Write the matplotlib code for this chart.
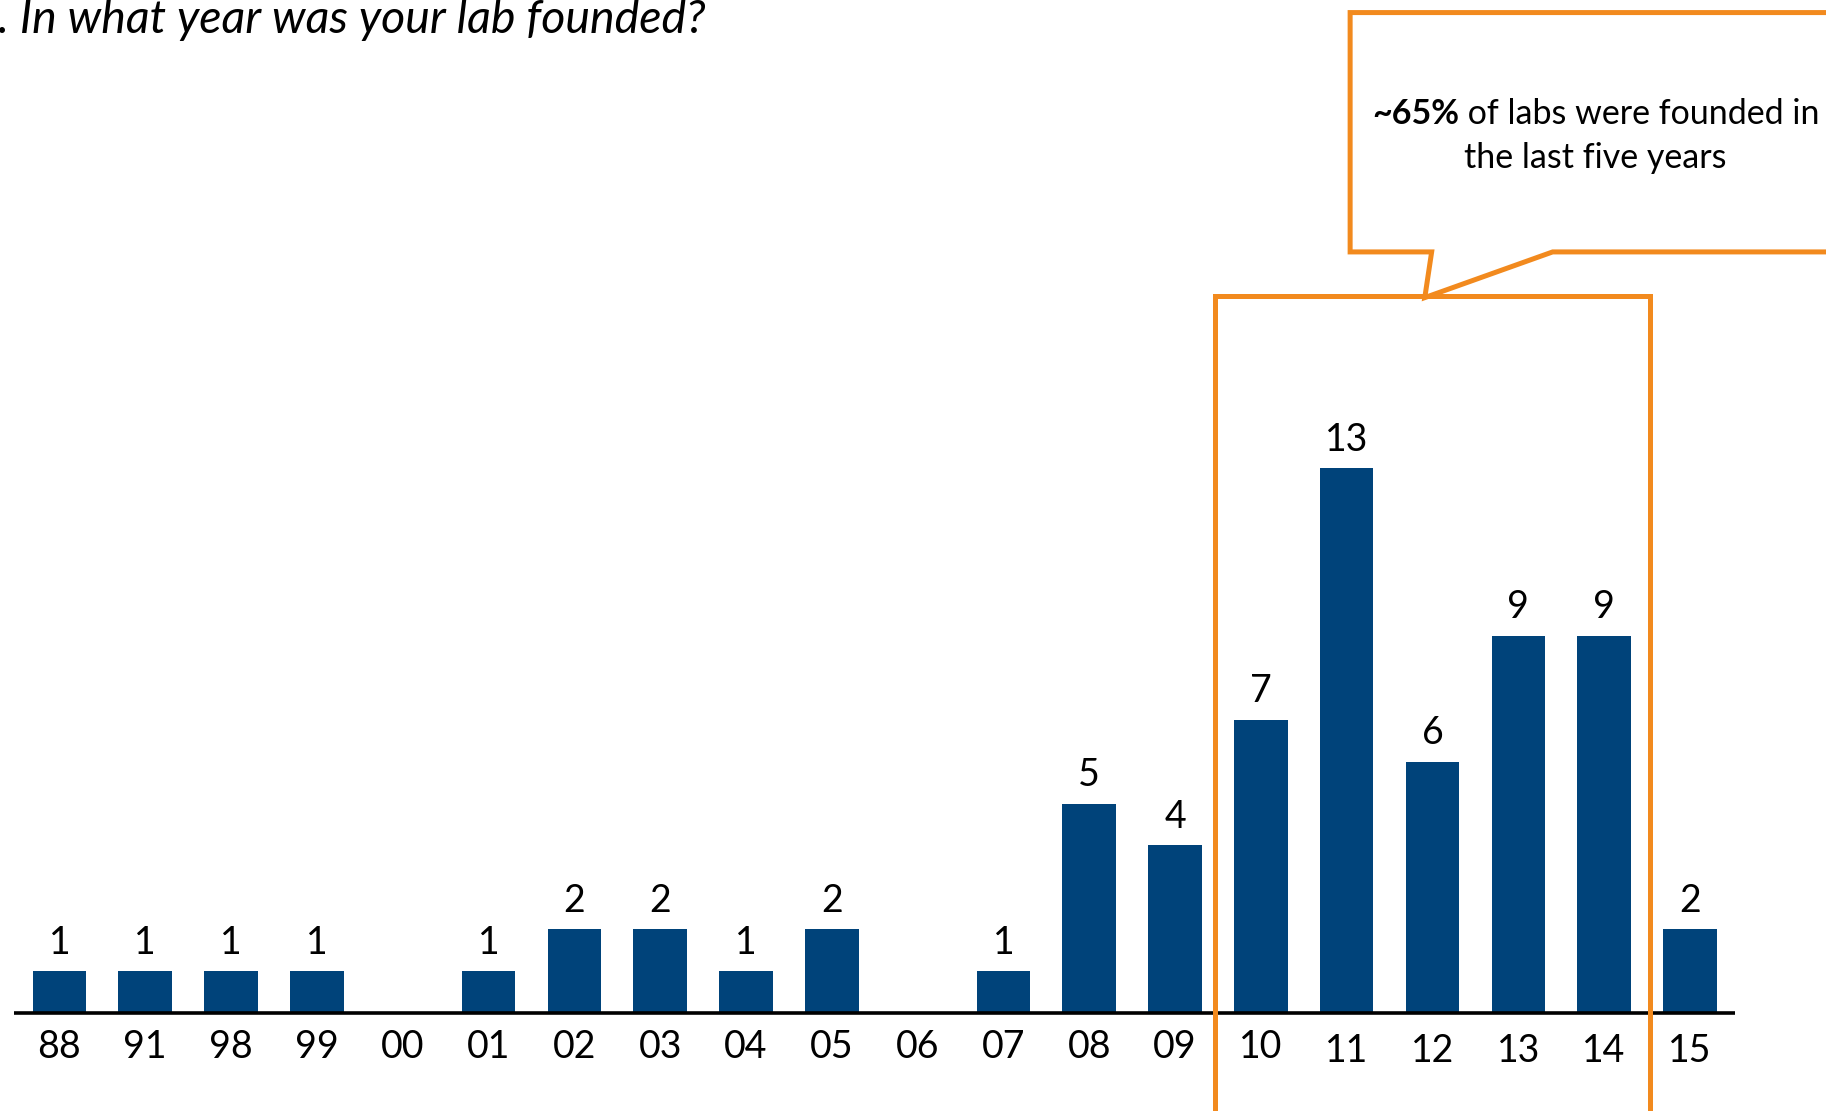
import matplotlib
matplotlib.use("Agg")
import matplotlib.pyplot as plt
from matplotlib.patches import Polygon, Rectangle

years = ['88', '91', '98', '99', '00', '01', '02', '03', '04', '05',
         '06', '07', '08', '09', '10', '11', '12', '13', '14', '15']
counts = [1, 1, 1, 1, 0, 1, 2, 2, 1, 2, 0, 1, 5, 4, 7, 13, 6, 9, 9, 2]
title = ". In what year was your lab founded?"
note_bold = "~65%"
note_rest = " of labs were founded in"
note_line2 = "the last five years"

BAR = "#00437A"
ORANGE = "#F28A1E"
FONT = "Lato"

W, H = 1826, 1111
fig = plt.figure(figsize=(W / 100, H / 100), dpi=100)
ax = fig.add_axes([0, 0, 1, 1])
ax.set_xlim(-0.692, 20.585)
ax.set_ylim(-2.335, 24.17)
ax.axis('off')

x = list(range(len(years)))
ax.bar(x, counts, width=0.624, color=BAR, zorder=2)

# baseline
ax.plot([-0.53, 19.53], [0, 0], color='black', lw=2.6, zorder=3, solid_capstyle='butt')

for xi, c, lab in zip(x, counts, years):
    if c > 0:
        ax.text(xi, c + 0.68, str(c), ha='center', va='center', fontsize=27,
                family=FONT, color='black')
    ax.text(xi, -0.82 if xi < 15 else -0.9, lab, ha='center', va='center',
            fontsize=27, family=FONT, color='black')

# orange highlight rectangle (open at bottom, extends past figure)
ax.add_patch(Rectangle((13.46, -3.0), 18.54 - 13.46, 17.11 + 3.0, fill=False,
                       edgecolor=ORANGE, lw=3.6, clip_on=False, zorder=4))

# callout box with tail
callout = [(21.5, 23.87), (15.04, 23.87), (15.04, 18.16), (15.99, 18.16),
           (15.91, 17.07), (17.40, 18.16), (21.5, 18.16)]
ax.add_patch(Polygon(callout, closed=False, fill=False, edgecolor=ORANGE,
                     lw=3.6, clip_on=False, zorder=5, joinstyle='miter'))

fig.canvas.draw()
r = fig.canvas.get_renderer()
t1 = ax.text(0, 21.2, note_bold, fontweight='bold', fontsize=24.5, family=FONT,
             ha='left', va='baseline')
t2 = ax.text(0, 21.2, note_rest, fontsize=24.5, family=FONT, ha='left', va='baseline')
w1 = t1.get_window_extent(r).width / 85.82
w2 = t2.get_window_extent(r).width / 85.82
cx = 17.90
start = cx - (w1 + w2) / 2
t1.set_x(start)
t2.set_x(start + w1)
ax.text(cx, 20.16, note_line2, fontsize=24.5, family=FONT, ha='center', va='baseline')

fig.text(-2 / W, 1 - 33 / H, title, fontsize=33.5, family=FONT, style='italic',
         ha='left', va='baseline')

fig.savefig("out.png", dpi=100)
